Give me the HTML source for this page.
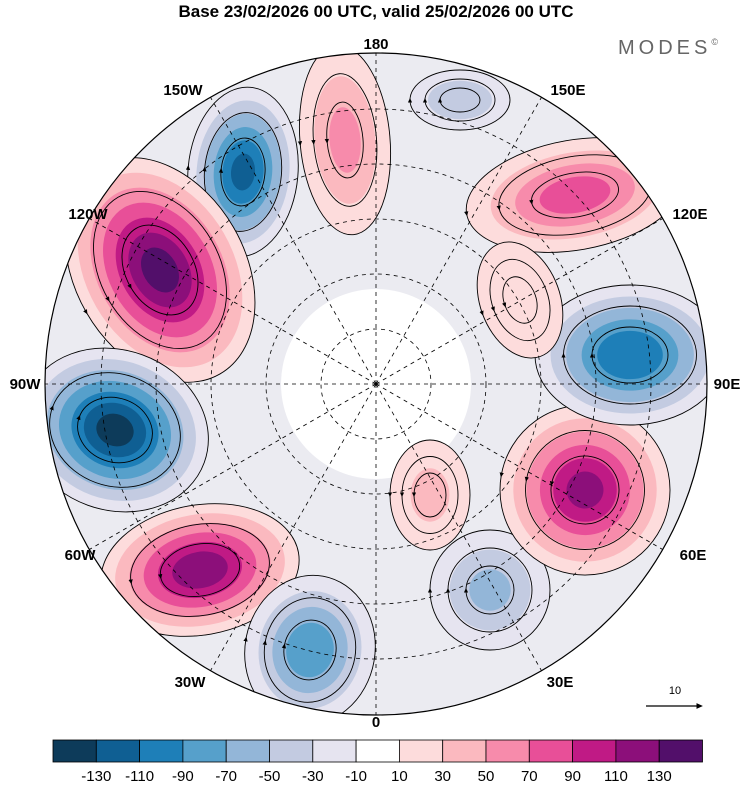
<!DOCTYPE html>
<html><head><meta charset="utf-8"><style>
body{margin:0;background:#fff;width:750px;height:783px;overflow:hidden;font-family:"Liberation Sans",sans-serif}
</style></head><body>
<svg id="chart" width="750" height="783" viewBox="0 0 750 783" xmlns="http://www.w3.org/2000/svg">
<defs>
<clipPath id="disk"><circle cx="376" cy="384" r="331"/></clipPath>
<marker id="arr" viewBox="0 0 10 10" refX="5" refY="5" markerWidth="6" markerHeight="6" orient="auto"><path d="M0,1 L9,5 L0,9 z" fill="#000"/></marker>
</defs>
<text x="376" y="17" text-anchor="middle" font-size="17" font-weight="bold">Base 23/02/2026 00 UTC, valid 25/02/2026 00 UTC</text>
<text x="670" y="54" text-anchor="middle" font-size="20" fill="#666" letter-spacing="4">MODES<tspan font-size="9" dy="-9">©</tspan></text>
<g id="map" clip-path="url(#disk)"></g>
<circle cx="376" cy="384" r="331" fill="none" stroke="#000" stroke-width="1.2"/>
<g id="grat"></g>
<g id="labels" font-size="15" font-weight="bold">
<text x="376" y="727" text-anchor="middle">0</text>
<text x="560" y="687" text-anchor="middle">30E</text>
<text x="693" y="560" text-anchor="middle">60E</text>
<text x="727" y="389" text-anchor="middle">90E</text>
<text x="690" y="219" text-anchor="middle">120E</text>
<text x="568" y="95" text-anchor="middle">150E</text>
<text x="376" y="49" text-anchor="middle">180</text>
<text x="183" y="95" text-anchor="middle">150W</text>
<text x="88" y="219" text-anchor="middle">120W</text>
<text x="25" y="389" text-anchor="middle">90W</text>
<text x="80" y="560" text-anchor="middle">60W</text>
<text x="190" y="687" text-anchor="middle">30W</text>
</g>
<g id="cbar"></g>
<text x="675" y="694" text-anchor="middle" font-size="11">10</text>
<line x1="646" y1="706" x2="700" y2="706" stroke="#000" stroke-width="1.2" marker-end="url(#arr)"/>
</svg>
<script>
const levels=[-130,-110,-90,-70,-50,-30,-10,10,30,50,70,90,110,130];
const colors=["#0d3b5a","#0f5f93","#1e7fb8","#56a0cb","#93b6d8","#c3cbe1","#e6e4f0","#ffffff","#fddcdc","#fbb9bf","#f78bab","#e84f98","#c01a85","#8c0f7a","#520f6a"];
// anomaly blobs: map-projected centre, extent, rotation, peak value
const blobX=[243,160,115,200,310,490,585,630,575,345,460,430,520];
const blobY=[172,270,430,570,650,590,490,355,195,140,100,495,300];
const blobRx=[55,85,95,100,65,60,85,95,110,45,50,40,40];
const blobRy=[85,120,80,65,75,60,85,70,55,95,30,55,60];
const blobRot=[5,-30,20,-10,10,0,10,0,-10,-5,0,0,-20];
const blobPeak=[-115,135,-135,125,-85,-55,115,-110,80,55,-50,35,30];
const NS="http://www.w3.org/2000/svg";
function colorFor(v){let i=0;while(i<levels.length&&v>levels[i])i++;return colors[i];}
const map=document.getElementById('map');
function mk(tag,attrs,parent){const e=document.createElementNS(NS,tag);for(const k in attrs)e.setAttribute(k,attrs[k]);parent.appendChild(e);return e;}
const bg=mk('circle',{cx:376,cy:384,r:331,fill:"#ebebf1"},map);


const ctr=mk('circle',{cx:376,cy:384,r:95,fill:"#ffffff"},map);


for(let b=0;b<blobX.length;b++){
  const p=blobPeak[b],s=Math.sign(p),a=Math.abs(p);
  const g=mk('g',{transform:`translate(${blobX[b]},${blobY[b]}) rotate(${blobRot[b]})`},map);
  
  
  for(let l=10;l<a;l+=20){
    const f=1-(l-10)/a*0.9;
    const e=mk('ellipse',{cx:0,cy:0,rx:blobRx[b]*f,ry:blobRy[b]*f,fill:colorFor(s*(l+1))},g);
    
    
  }
  for(let k=0;k<3;k++){
    const f=0.4+k*0.3;
    const rx=blobRx[b]*f,ry=blobRy[b]*f;
    const path=mk('path',{d:`M${rx},0 A${rx},${ry} 0 0 ${p>0?0:1} ${-rx},0 A${rx},${ry} 0 0 ${p>0?0:1} ${rx},0`,fill:"none",stroke:"#000","stroke-width":0.9,"marker-mid":"url(#arr)"},g);
    
    
  }
}
const grat=document.getElementById('grat');
[55,110,165,220,275].forEach(r=>{const c=mk('circle',{cx:376,cy:384,r:r,fill:"none",stroke:"#000","stroke-width":0.8,"stroke-dasharray":"4 4"},grat);

});
for(let i=0;i<12;i++){
  const ang=i*30*Math.PI/180;
  const dx=Math.sin(ang),dy=Math.cos(ang);
  const l=mk('line',{x1:376,y1:384,x2:376+dx*331,y2:384+dy*331,stroke:"#000","stroke-width":0.8,"stroke-dasharray":"4 4"},grat);
  
  
}
const cb=document.getElementById('cbar');
const x0=53,w=43.3;
colors.forEach((c,i)=>{const r=mk('rect',{x:x0+i*w,y:740,width:w,height:22,fill:c,stroke:"#000","stroke-width":0.8},cb);

});
levels.forEach((v,i)=>{const t=mk('text',{x:x0+(i+1)*w,y:781,"text-anchor":"middle","font-size":15},cb);t.textContent=v;

});
</script>
</body></html>
